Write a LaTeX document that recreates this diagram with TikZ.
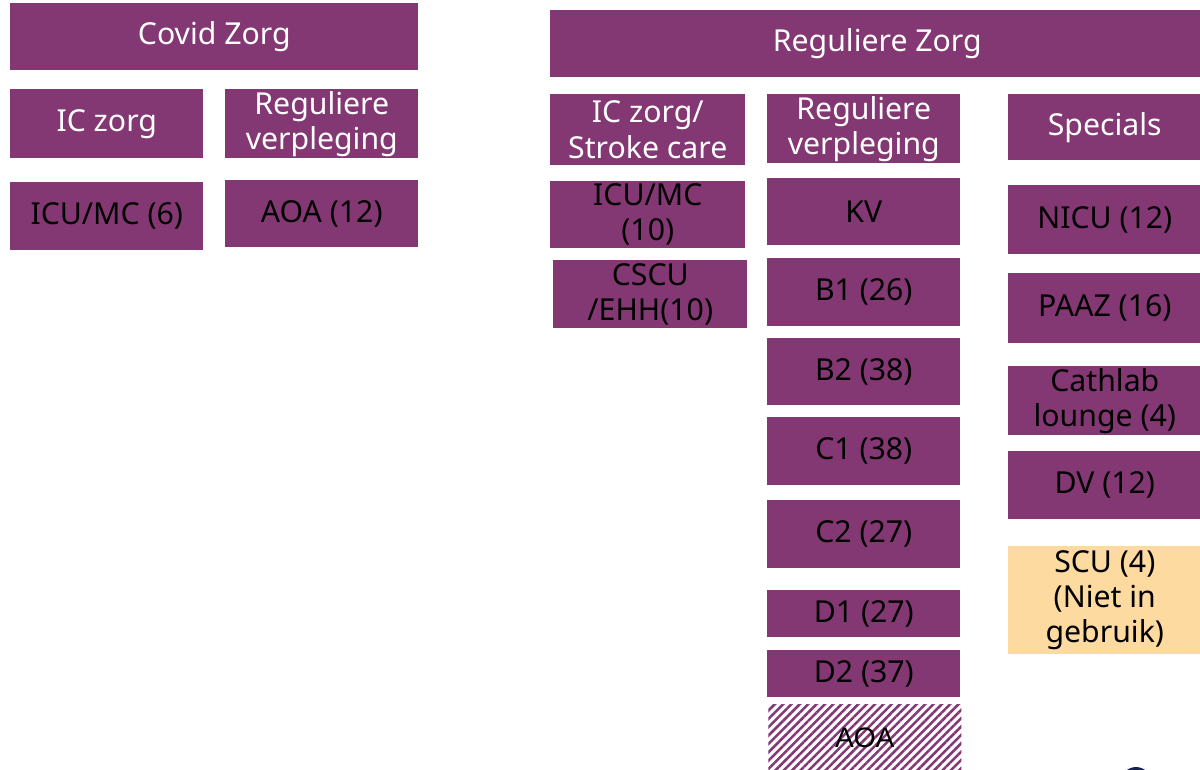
\documentclass[tikz,border=0pt]{standalone}
\usepackage{fontspec}
\setmainfont{Noto Sans}
\newfontfamily\hatchfont{Liberation Sans}
\usepackage{xcolor}
\usetikzlibrary{patterns.meta}

\definecolor{zorgpaars}{RGB}{132,56,115}
\definecolor{zorgperzik}{RGB}{252,218,160}
\definecolor{logoblauw}{RGB}{25,35,80}
\newcommand{\px}{0.025cm}

\tikzset{
	afd/.style={fill=zorgpaars, text=black, inner sep=0pt, anchor=north west,
		align=center, font=\fontsize{21.5}{25}\selectfont},
	kop/.style={afd, text=white},
}

\begin{document}
\begin{tikzpicture}[x=0.025cm, y=-0.025cm]
	\useasboundingbox (0,0) rectangle (1200,769);
	\clip (0,0) rectangle (1200,769);
	
	% Covid zorg
	\node [kop, minimum width=408*\px, minimum height=67*\px] (covid) at (10,3) {Covid Zorg};
	\node [kop, minimum width=193*\px, minimum height=69*\px] (covidic) at (10,89) {IC zorg};
	\node [kop, minimum width=193*\px, minimum height=69*\px] (covidreg) at (225,89) {Reguliere\\verpleging};
	\node [afd, minimum width=193*\px, minimum height=68*\px] (covidicu) at (10,182) {ICU/MC (6)};
	\node [afd, minimum width=193*\px, minimum height=67*\px] (covidaoa) at (225,180) {AOA (12)};
	
	% Reguliere zorg
	\node [kop, minimum width=654*\px, minimum height=67*\px] (regzorg) at (550,10) {Reguliere Zorg};
	\node [kop, minimum width=195*\px, minimum height=71*\px] (regic) at (550,94) {IC zorg/\\Stroke care};
	\node [kop, minimum width=193*\px, minimum height=69*\px] (regverpl) at (767,94) {Reguliere\\verpleging};
	\node [kop, minimum width=193*\px, minimum height=66*\px] (specials) at (1008,94) {Specials};
	
	\node [afd, minimum width=195*\px, minimum height=67*\px] (icu) at (550,181) {ICU/MC\\(10)};
	\node [afd, minimum width=194*\px, minimum height=68*\px] (cscu) at (553,260) {CSCU\\/EHH(10)};
	
	\node [afd, minimum width=193*\px, minimum height=67*\px] (kv) at (767,178) {KV};
	\node [afd, minimum width=193*\px, minimum height=68*\px] (bone) at (767,258) {B1 (26)};
	\node [afd, minimum width=193*\px, minimum height=67*\px] (btwo) at (767,338) {B2 (38)};
	\node [afd, minimum width=193*\px, minimum height=68*\px] (cone) at (767,417) {C1 (38)};
	\node [afd, minimum width=193*\px, minimum height=68*\px] (ctwo) at (767,500) {C2 (27)};
	\node [afd, minimum width=193*\px, minimum height=47*\px] (done) at (767,590) {D1 (27)};
	\node [afd, minimum width=193*\px, minimum height=47*\px] (dtwo) at (767,650) {D2 (37)};
	\node [afd, fill=none, pattern={Lines[angle=45, distance=4.2pt, line width=1.8pt]}, pattern color=zorgpaars,
		minimum width=193*\px, minimum height=68*\px, font=\hatchfont\fontsize{20}{24}\selectfont] (aoa) at (767,703) {AOA};
	
	\node [afd, minimum width=193*\px, minimum height=69*\px] (nicu) at (1008,185) {NICU (12)};
	\node [afd, minimum width=193*\px, minimum height=70*\px] (paaz) at (1008,273) {PAAZ (16)};
	\node [afd, minimum width=193*\px, minimum height=69*\px] (cathlab) at (1008,366) {Cathlab\\lounge (4)};
	\node [afd, minimum width=193*\px, minimum height=68*\px] (dv) at (1008,451) {DV (12)};
	\node [afd, fill=zorgperzik, minimum width=193*\px, minimum height=108*\px] (scu) at (1008,546) {SCU (4)\\(Niet in\\gebruik)};
	
	% logo, afgesneden
	\fill [logoblauw] (1136,782) circle (15);
\end{tikzpicture}
\end{document}
